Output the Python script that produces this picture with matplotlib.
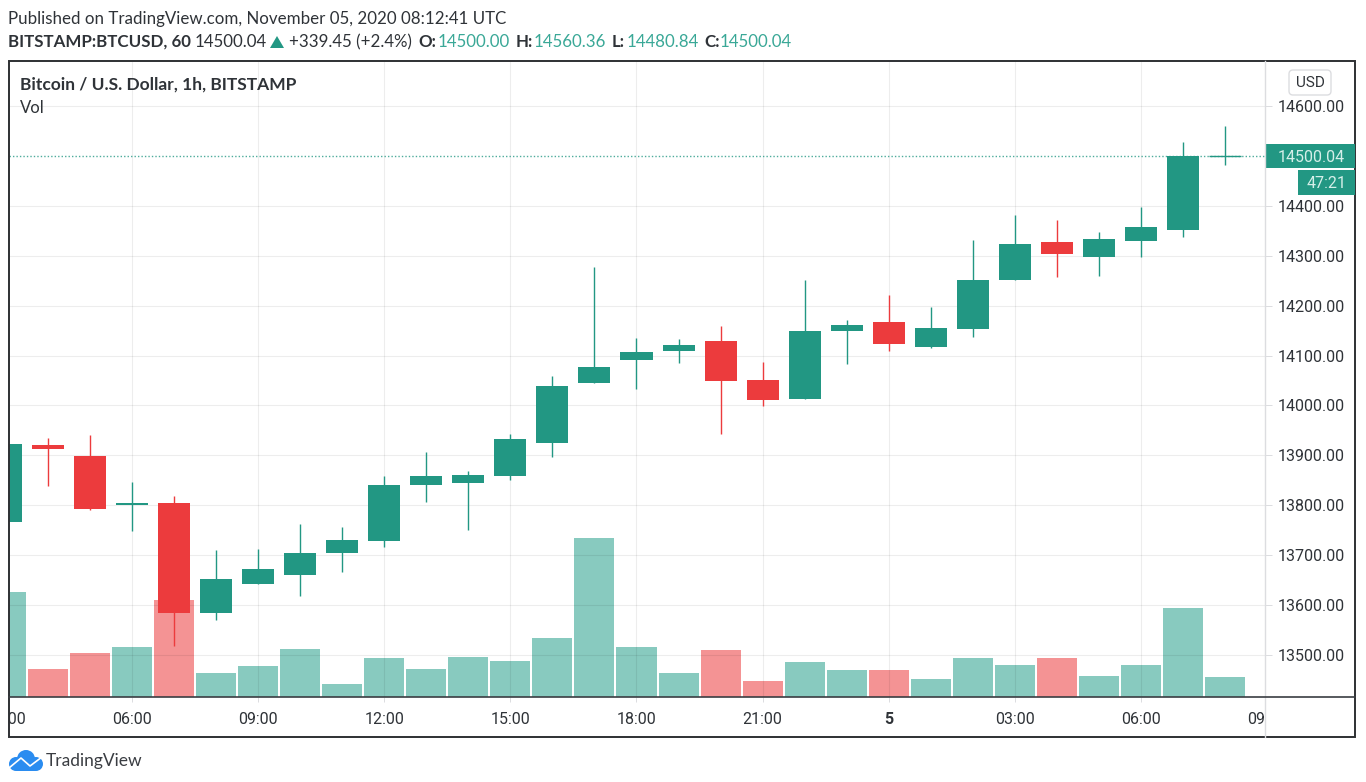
import matplotlib as mpl
mpl.use("Agg")
import matplotlib.pyplot as plt
from matplotlib.patches import Circle, FancyBboxPatch, Polygon, Rectangle

W, H = 1366, 782

# candles, oldest first (1h, starts at 03:00 on Nov 4)
opens = [13767, 13920, 13898, 13800, 13804, 13585, 13643, 13660, 13704, 13728,
         13840, 13844, 13858, 13924, 14045, 14092, 14110, 14130, 14050, 14012,
         14150, 14168, 14118, 14153, 14252, 14328, 14298, 14329, 14352, 14500.00]
closes = [13922, 13912, 13792, 13805, 13585, 13653, 13672, 13705, 13730, 13841,
          13858, 13860, 13933, 14038, 14077, 14108, 14122, 14048, 14010, 14150,
          14162, 14124, 14155, 14251, 14324, 14304, 14333, 14357, 14500, 14500.04]
highs = [13925, 13935, 13940, 13847, 13818, 13710, 13712, 13762, 13757, 13858,
         13906, 13868, 13942, 14060, 14278, 14136, 14134, 14160, 14087, 14252,
         14172, 14222, 14197, 14332, 14382, 14372, 14348, 14398, 14527, 14560.36]
lows = [13765, 13838, 13790, 13748, 13518, 13570, 13643, 13618, 13667, 13716,
        13806, 13750, 13850, 13896, 14045, 14032, 14085, 13942, 13998, 14012,
        14083, 14110, 14115, 14137, 14252, 14258, 14260, 14298, 14338, 14480.84]
volumes = [1050, 280, 440, 500, 970, 240, 310, 480, 130, 390,
           280, 400, 360, 590, 1590, 500, 240, 470, 160, 350,
           270, 270, 180, 390, 320, 390, 210, 320, 890, 200]

price_ticks = [13500, 13600, 13700, 13800, 13900, 14000, 14100, 14200, 14300, 14400, 14600]
time_pos = [0, 3, 6, 9, 12, 15, 18, 21, 24, 27, 30]
time_labels = ["03:00", "06:00", "09:00", "12:00", "15:00", "18:00", "21:00", "5",
               "03:00", "06:00", "09:00"]

GREEN = "#229783"
RED = "#ec3b3d"
TEXT = "#2f3338"
TEAL_TEXT = "#3aa897"
DIVIDER = "#dcdde0"

plt.rcParams["font.family"] = ["Lato", "DejaVu Sans"]

fig = plt.figure(figsize=(W / 100, H / 100), dpi=100)


def px_axes(x0, y0, x1, y1):
    return fig.add_axes([x0 / W, 1 - y1 / H, (x1 - x0) / W, (y1 - y0) / H])


# main pane
ax = px_axes(9, 61, 1265, 697)
ax_vol = ax.twinx()
ax.set_zorder(ax_vol.get_zorder() + 1)
ax.patch.set_visible(False)
xlim = (0.0742, 29.95)
ax.set_ylim(13416, 14690)
ax_vol.set_ylim(0, 6360)
ax_vol.set_yticks([])

xs = list(range(len(opens)))
up = [c >= o for o, c in zip(opens, closes)]
colors = [GREEN if u else RED for u in up]

ax_vol.bar(xs, volumes, width=40 / 42, color=["#26a08c" if u else RED for u in up],
           alpha=0.55, linewidth=0)

ax.set_axisbelow(True)
ax.grid(True, color="black", alpha=0.07, linewidth=0.8)
ax.vlines(xs, lows, highs, colors=colors, linewidth=1.0, zorder=3)
bottoms = [min(o, c) for o, c in zip(opens, closes)]
heights = [abs(c - o) for o, c in zip(opens, closes)]
ax.bar(xs[:-1], heights[:-1], bottom=bottoms[:-1], width=32 / 42, color=colors[:-1],
       linewidth=0, zorder=4)
# last candle is nearly flat, a bar would vanish
ax.hlines(closes[-1], xs[-1] - 0.38, xs[-1] + 0.38, colors=GREEN, linewidth=1.0, zorder=4)
ax.axhline(closes[-1], color=GREEN, linewidth=1, linestyle=(0, (1, 1.5)), alpha=0.8, zorder=2)

ax.set_xticks(time_pos)
ax.set_xticklabels([])
ax.set_xlim(*xlim)  # after set_xticks, it widens the limits
ax.tick_params(axis="x", length=0)
ax.yaxis.tick_right()
ax.set_yticks(price_ticks)
ax.set_yticklabels(["%.2f" % p for p in price_ticks], fontsize=11.5, color=TEXT,
                   fontfamily="Roboto")
ax.tick_params(axis="y", length=5, width=0.72, color=DIVIDER, pad=4)
for a in (ax, ax_vol):
    for s in a.spines.values():
        s.set_visible(False)

# time strip, labels get cut at the pane edges like in the original
ax_time = px_axes(9, 697, 1265, 737)
ax_time.set_xlim(*xlim)
ax_time.set_ylim(0, 40)
ax_time.invert_yaxis()
ax_time.axis("off")
ax_time.vlines(time_pos, 0, 5, colors=DIVIDER, linewidth=0.72)
for pos, lab in zip(time_pos, time_labels):
    ax_time.text(pos, 22.5, lab, ha="center", va="center", fontsize=11.5, color=TEXT,
                 fontfamily="Roboto", fontweight="bold" if lab == "5" else "normal",
                 clip_on=True)

# everything around the pane, in pixels
ov = fig.add_axes([0, 0, 1, 1], zorder=10)
ov.set_xlim(0, W)
ov.set_ylim(H, 0)
ov.axis("off")

ov.plot([1265, 1265], [61, 737], color=DIVIDER, linewidth=1)
ov.plot([9, 1355], [697, 697], color="#3a3d42", linewidth=1.2)
ov.add_patch(Rectangle((9, 61), 1346, 676, fill=False, edgecolor="#2e3033", linewidth=1.4))

# last price and countdown tags
ov.add_patch(Rectangle((1265, 144), 90, 24, color=GREEN, linewidth=0))
ov.add_patch(Rectangle((1298, 170), 57, 25, color=GREEN, linewidth=0))
ov.text(1311, 157, "14500.04", ha="center", va="center", fontsize=11.5, color="#d5efe9",
        fontfamily="Roboto")
ov.text(1327, 184, "47:21", ha="center", va="center", fontsize=11.5, color="#d5efe9",
        fontfamily="Roboto")

ov.add_patch(FancyBboxPatch((1289, 70), 42, 25, boxstyle="round,pad=0,rounding_size=4",
                            facecolor="white", edgecolor="#dcdde0", linewidth=1))
ov.text(1310, 83, "USD", ha="center", va="center", fontsize=11, color=TEXT,
        fontfamily="Roboto")

ov.text(20, 85, "Bitcoin / U.S. Dollar, 1h, BITSTAMP", va="center", fontsize=12.5,
        fontweight="bold", color=TEXT)
ov.text(20, 108, "Vol", va="center", fontsize=12, color=TEXT)

# header lines
ov.text(8, 19, "Published on TradingView.com, November 05, 2020 08:12:41 UTC", va="center",
        fontsize=12.2, color=TEXT)
header = [
    (8, "BITSTAMP:BTCUSD, 60", TEXT, "bold"),
    (195, "14500.04", TEXT, "normal"),
    (289, "+339.45 (+2.4%)", TEXT, "normal"),
    (418, "O:", TEXT, "bold"),
    (438, "14500.00", TEAL_TEXT, "normal"),
    (516, "H:", TEXT, "bold"),
    (534, "14560.36", TEAL_TEXT, "normal"),
    (612, "L:", TEXT, "bold"),
    (627, "14480.84", TEAL_TEXT, "normal"),
    (704, "C:", TEXT, "bold"),
    (720, "14500.04", TEAL_TEXT, "normal"),
]
for x, s, c, w in header:
    ov.text(x, 42, s, va="center", fontsize=12.2, color=c, fontweight=w)
ov.add_patch(Polygon([[270, 48], [284, 48], [277, 36]], color=GREEN, linewidth=0))

# logo
BLUE = "#2a8cf0"
ov.add_patch(Circle((26, 759), 9, color=BLUE, linewidth=0))
ov.add_patch(Circle((16, 764), 7, color=BLUE, linewidth=0))
ov.add_patch(Circle((36, 764), 7, color=BLUE, linewidth=0))
ov.add_patch(Rectangle((16, 762), 20, 9, color=BLUE, linewidth=0))
ov.plot([9, 21, 30, 42], [768, 758, 766, 757], color="white", linewidth=1.2)
ov.text(46, 761, "TradingView", va="center", fontsize=12.5, color="#3a3d42")

fig.savefig("out.png", dpi=100)
